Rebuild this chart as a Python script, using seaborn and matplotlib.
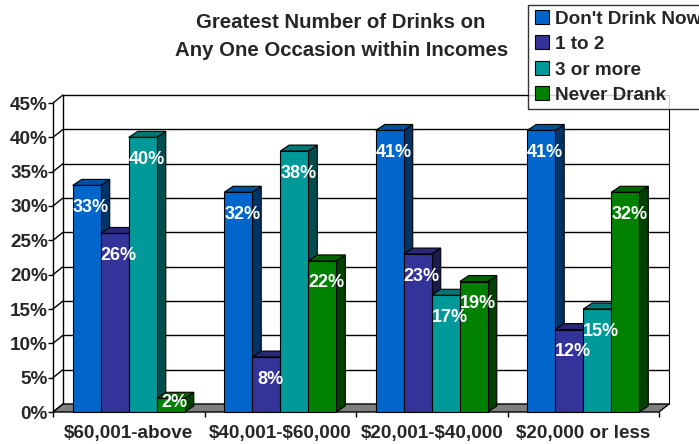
import numpy as np
import pandas as pd
import matplotlib
matplotlib.use("Agg")
import matplotlib.pyplot as plt
from matplotlib.patches import Polygon, Rectangle
from matplotlib.lines import Line2D
import seaborn as sns

# ---- data -------------------------------------------------------------
incomes = ["$60,001-above", "$40,001-$60,000", "$20,001-$40,000", "$20,000 or less"]
groups = ["Don't Drink Now", "1 to 2", "3 or more", "Never Drank"]
dont_drink_now = [33, 32, 41, 41]
one_to_two = [26, 8, 23, 12]
three_or_more = [40, 38, 17, 15]
never_drank = [2, 22, 19, 32]
y_ticks = [0, 5, 10, 15, 20, 25, 30, 35, 40, 45]
title_lines = ["Greatest Number of Drinks on", "Any One Occasion within Incomes"]

colors = ["#0066CC", "#333399", "#009999", "#008000"]

df = pd.DataFrame({
    "income": np.repeat(incomes, len(groups)),
    "group": groups * len(incomes),
    "pct": np.ravel(np.column_stack([dont_drink_now, one_to_two, three_or_more, never_drank])),
})

# ---- figure -----------------------------------------------------------
sns.set_style("white")
plt.rcParams["font.family"] = ["Liberation Sans", "DejaVu Sans"]
plt.rcParams["font.weight"] = "bold"
plt.rcParams["text.parse_math"] = False   # keep "$" literal in the labels

W, H, DPI = 699, 444, 100
fig = plt.figure(figsize=(W / DPI, H / DPI), dpi=DPI)

# front plane of the 3-D plot area (pixel box)
left_px, right_px, bottom_px, top_px = 53, 659, 412, 103
ax = fig.add_axes([left_px / W, 1 - bottom_px / H,
                   (right_px - left_px) / W, (bottom_px - top_px) / H])

px_x = (right_px - left_px) / len(incomes)   # pixels per category
px_y = (bottom_px - top_px) / 45.0           # pixels per percent

def dx(p):
    return p / px_x

def dy(p):
    return p / px_y

# depth of walls and of the bars, in pixels
wall_dx, wall_dy = 10, 8
bar_dx, bar_dy = 9, 6

x0, x1 = -0.5, len(incomes) - 0.5
wx, wy = dx(wall_dx), dy(wall_dy)

# ---- bars ---------------------------------------------------------------
sns.barplot(data=df, x="income", y="pct", hue="group", hue_order=groups,
            order=incomes, palette=colors, width=0.74, saturation=1,
            edgecolor="black", linewidth=0.8, legend=False, ax=ax, errorbar=None)
ax.set_xlim(x0, x1)
ax.set_ylim(0, 45)

# floor
ax.add_patch(Polygon([(x0, 0), (x1, 0), (x1 + wx, wy), (x0 + wx, wy)],
                     closed=True, facecolor="#808080", edgecolor="black",
                     linewidth=1, zorder=1, clip_on=False))
# back wall grid lines and left wall diagonals
for v in y_ticks[1:]:
    ax.plot([x0 + wx, x1 + wx], [v + wy, v + wy], color="black", lw=1,
            zorder=0.5, clip_on=False, solid_capstyle="butt")
for v in y_ticks:
    ax.plot([x0, x0 + wx], [v, v + wy], color="black", lw=1,
            zorder=0.5, clip_on=False)
ax.plot([x0 + wx, x0 + wx], [wy, 45 + wy], color="black", lw=1, zorder=0.5, clip_on=False)
ax.plot([x1 + wx, x1 + wx], [wy, 45 + wy], color="black", lw=0.8, zorder=0.5, clip_on=False)


def shade(c, f):
    r, g, b = matplotlib.colors.to_rgb(c)
    return (r * f, g * f, b * f)

bdx, bdy = dx(bar_dx), dy(bar_dy)
n_cat = len(incomes)
bars = [p for p in ax.patches if isinstance(p, Rectangle)][: n_cat * len(groups)]
for i, p in enumerate(bars):
    gi = i // n_cat
    base = matplotlib.colors.to_rgb(colors[gi])
    z = 2 + gi * 0.1
    p.set_zorder(z + 0.05)
    p.set_clip_on(False)
    xa, w, h = p.get_x(), p.get_width(), p.get_height()
    xb = xa + w
    top = Polygon([(xa, h), (xb, h), (xb + bdx, h + bdy), (xa + bdx, h + bdy)],
                  closed=True, facecolor=shade(base, 0.78), edgecolor="black",
                  linewidth=0.8, zorder=z, clip_on=False)
    side = Polygon([(xb, 0), (xb + bdx, bdy), (xb + bdx, h + bdy), (xb, h)],
                   closed=True, facecolor=shade(base, 0.5), edgecolor="black",
                   linewidth=0.8, zorder=z, clip_on=False)
    ax.add_patch(side)
    ax.add_patch(top)
    # value label inside the bar, near its top
    h_px = h * px_y
    down = max(min(22, h_px - 10), 0)
    ax.annotate(f"{h:g}%", xy=(xa + w / 2, h), xytext=(4 * 0.72, -down * 0.72),
                textcoords="offset points", ha="center", va="center",
                color="white", fontsize=13, fontweight="bold", zorder=5)

# ---- axes decoration -----------------------------------------------------
for s in ["top", "right", "bottom"]:
    ax.spines[s].set_visible(False)
ax.spines["left"].set_color("black")
ax.spines["left"].set_linewidth(1)
ax.set_yticks(y_ticks)
ax.set_yticklabels([f"{v}%" for v in y_ticks], fontsize=13.6, fontweight="bold")
ax.tick_params(axis="y", length=3.6, width=1, color="black", pad=0, left=True)
ax.set_xticks(range(n_cat))
ax.set_xticklabels(incomes, fontsize=13.6, fontweight="bold")
ax.set_xticks(np.arange(n_cat + 1) - 0.5, minor=True)
ax.tick_params(axis="x", which="major", length=0, pad=9)
ax.tick_params(axis="x", which="minor", length=3.6, width=1, color="black", bottom=True)
ax.set_xlabel("")
ax.set_ylabel("")
ax.patch.set_visible(False)

# ---- title ---------------------------------------------------------------
fig.text(341 / W, 1 - 22 / H, title_lines[0], ha="center", va="center",
         fontsize=14.7, fontweight="bold")
fig.text(342 / W, 1 - 50 / H, title_lines[1], ha="center", va="center",
         fontsize=14.7, fontweight="bold")

# ---- legend (runs off the right edge of the figure) -----------------------
handles = [Line2D([], [], linestyle="none", marker="s", markersize=9.5,
                  markerfacecolor=c, markeredgecolor="black", markeredgewidth=0.8)
           for c in colors]
leg = fig.legend(handles, groups, loc="upper left",
                 bbox_to_anchor=(528 / W, 1 - 5 / H), bbox_transform=fig.transFigure,
                 frameon=True, fancybox=False, shadow=False, borderaxespad=0,
                 prop={"size": 13.6, "weight": "bold"}, handlelength=0.9,
                 handletextpad=0.25, labelspacing=0.44, borderpad=0.28)
leg.get_frame().set_edgecolor("black")
leg.get_frame().set_linewidth(1)

fig.savefig("out.png", dpi=DPI)
